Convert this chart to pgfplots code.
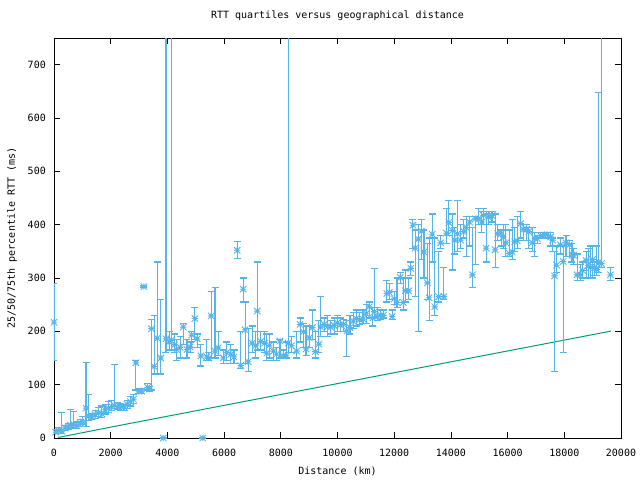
\documentclass[border=0pt]{standalone}
\usepackage{fontspec}
\setmainfont{DejaVu Sans Mono}
\usepackage{pgfplots}
\usepackage{pgfplotstable}
\pgfplotsset{compat=1.18}
\definecolor{gpblue}{RGB}{86,180,233}
\definecolor{gpgreen}{RGB}{0,158,115}
\pgfdeclareplotmark{gpstar}{%
 \pgfpathmoveto{\pgfqpoint{-\pgfplotmarksize}{0pt}}\pgfpathlineto{\pgfqpoint{\pgfplotmarksize}{0pt}}%
 \pgfpathmoveto{\pgfqpoint{0pt}{-\pgfplotmarksize}}\pgfpathlineto{\pgfqpoint{0pt}{\pgfplotmarksize}}%
 \pgfpathmoveto{\pgfqpoint{-\pgfplotmarksize}{-\pgfplotmarksize}}\pgfpathlineto{\pgfqpoint{\pgfplotmarksize}{\pgfplotmarksize}}%
 \pgfpathmoveto{\pgfqpoint{-\pgfplotmarksize}{\pgfplotmarksize}}\pgfpathlineto{\pgfqpoint{\pgfplotmarksize}{-\pgfplotmarksize}}%
 \pgfusepathqstroke}
\pgfplotstableread{
d m lo hi
0 217 146 290
60 11 8 16
150 14 9 20
280 13 9 47
390 19 14 24
500 21 16 27
580 24 18 54
700 25 20 50
800 23 18 30
920 28 22 34
1020 30 25 40
1130 56 22 141
1230 41 32 81
1340 40 34 46
1450 44 36 52
1570 47 40 58
1690 45 38 60
1800 53 45 62
1920 56 48 68
2040 59 52 70
2130 61 55 137
2240 59 53 66
2350 59 52 64
2470 58 52 63
2580 63 56 70
2700 68 60 78
2800 73 65 82
2890 141 90 145
2990 88 84 92
3100 88 84 92
3170 284 282 286
3300 95 90 102
3370 92 88 97
3440 205 90 222
3530 134 120 230
3640 187 120 330
3770 150 120 260
3850 0 0 0
3950 186 160 900
4060 180 165 200
4130 183 165 900
4250 175 160 195
4330 166 145 185
4450 170 150 190
4560 208 175 215
4690 166 150 185
4800 171 160 180
4860 193 170 200
4970 224 185 245
5050 186 170 195
5180 154 135 175
5250 0 0 0
5390 152 145 185
5460 150 145 160
5540 229 150 274
5680 163 150 283
5790 169 155 200
5970 150 140 165
6090 160 145 180
6240 157 140 175
6350 152 140 165
6460 352 337 369
6590 136 130 200
6670 279 255 300
6740 203 140 255
6850 143 125 205
6990 178 160 210
7110 173 150 200
7170 238 165 330
7290 181 165 200
7430 178 160 200
7510 159 145 195
7600 174 150 195
7740 163 145 180
7850 157 145 170
7970 182 150 185
8080 154 150 165
8190 154 150 180
8260 178 160 900
8380 173 160 190
8560 163 150 200
8680 213 180 225
8800 199 170 215
8890 167 155 210
9000 188 170 210
9110 207 185 240
9220 162 150 200
9340 176 160 220
9410 208 190 265
9530 213 200 225
9650 209 190 230
9760 208 195 220
9880 211 195 225
9990 216 200 230
10100 212 200 225
10220 213 200 222
10330 201 152 220
10440 207 195 230
10550 219 205 235
10660 224 210 240
10780 222 212 235
10900 223 215 240
11010 233 215 250
11120 246 225 255
11240 225 210 245
11300 237 225 318
11410 228 220 245
11530 230 222 240
11620 230 225 240
11740 271 255 295
11830 273 260 290
11930 228 222 240
12000 261 250 275
12100 254 245 300
12210 301 290 310
12320 254 240 300
12390 276 255 315
12510 276 260 300
12590 318 305 330
12660 399 355 410
12740 356 265 390
12850 373 200 400
12960 388 335 410
13050 349 300 390
13170 291 260 365
13230 263 220 375
13340 382 330 420
13430 246 230 375
13570 265 255 350
13640 366 355 380
13750 265 260 320
13840 384 365 430
13930 404 380 445
14050 389 315 420
14140 371 345 395
14230 383 350 445
14340 371 355 400
14460 387 375 410
14540 395 340 415
14660 405 360 415
14760 306 283 395
14860 411 325 415
14980 411 400 430
15090 405 385 425
15150 417 400 430
15240 356 330 420
15330 414 400 425
15450 417 405 425
15560 353 320 420
15650 383 370 400
15770 383 360 390
15840 377 355 400
15940 366 340 400
16060 346 340 390
16160 349 335 410
16250 368 350 395
16340 370 355 415
16460 402 375 425
16550 391 370 400
16670 391 370 400
16750 387 355 395
16870 366 350 395
16960 374 340 385
17050 374 365 380
17170 379 375 385
17280 381 375 385
17400 381 375 385
17520 377 360 385
17590 371 350 375
17660 304 124 350
17730 324 310 360
17860 362 345 375
17960 331 160 360
18060 366 340 380
18180 362 340 370
18270 343 330 365
18330 343 325 355
18450 306 295 345
18570 306 295 325
18650 314 300 330
18770 333 300 350
18840 324 300 355
18930 320 300 360
19000 335 300 360
19070 320 305 330
19150 316 305 360
19220 330 310 647
19310 327 320 900
19630 306 295 320
}\quart
\begin{document}
\fontsize{10pt}{12pt}\selectfont
\begin{tikzpicture}
\path[use as bounding box] (-54pt,-42pt) rectangle (586pt,438pt);
\begin{axis}[
  at={(0,0)}, anchor=south west, scale only axis,
  width=567pt, height=400pt,
  xmin=0, xmax=20000, ymin=0, ymax=750,
  xtick={0,2000,...,20000}, ytick={0,100,...,700},
  scaled x ticks=false, scaled y ticks=false,
  tick align=inside, major tick length=6pt,
  axis line style={line width=0.8pt},
  every tick/.style={black, line width=0.8pt},
  /pgf/number format/assume math mode=true,
  /pgf/number format/set thousands separator={},
  ticklabel style={font=\fontsize{10pt}{12pt}\selectfont},
  xticklabel style={anchor=base, yshift=-18pt},
  yticklabel style={anchor=east, inner sep=0pt, xshift=-8pt},
  title={RTT quartiles versus geographical distance},
  title style={at={(axis description cs:0.5,1.035)}, anchor=base, inner sep=0pt, font=\fontsize{10pt}{12pt}\selectfont},
  xlabel={Distance (km)},
  xlabel style={at={(axis description cs:0.5,-0.09)}, anchor=base, inner sep=0pt, font=\fontsize{10pt}{12pt}\selectfont},
  ylabel={25/50/75th percentile RTT (ms)},
  ylabel style={at={(axis description cs:-0.0741,0.5)}, anchor=center, inner sep=0pt, font=\fontsize{10pt}{12pt}\selectfont},
]
\addplot[gpgreen, line width=1pt, no marks] coordinates {
(150,1) (2000,20.4) (4000,40.8) (6000,61.2) (8000,81.6) (10000,102) (12000,122.4) (14000,142.8) (16000,163.2) (18000,183.6) (19650,200.5)};
\addplot[only marks, gpblue, mark=gpstar, mark size=3.2pt, mark options={line width=0.9pt},
  error bars/.cd, y dir=both, y explicit,
  error bar style={line width=1.1pt, gpblue},
  error mark options={gpblue, mark size=3.5pt, line width=1.1pt, rotate=90}]
  table[x=d, y=m, y error plus expr=\thisrow{hi}-\thisrow{m}, y error minus expr=\thisrow{m}-\thisrow{lo}] {\quart};
\end{axis}
\end{tikzpicture}
\end{document}
